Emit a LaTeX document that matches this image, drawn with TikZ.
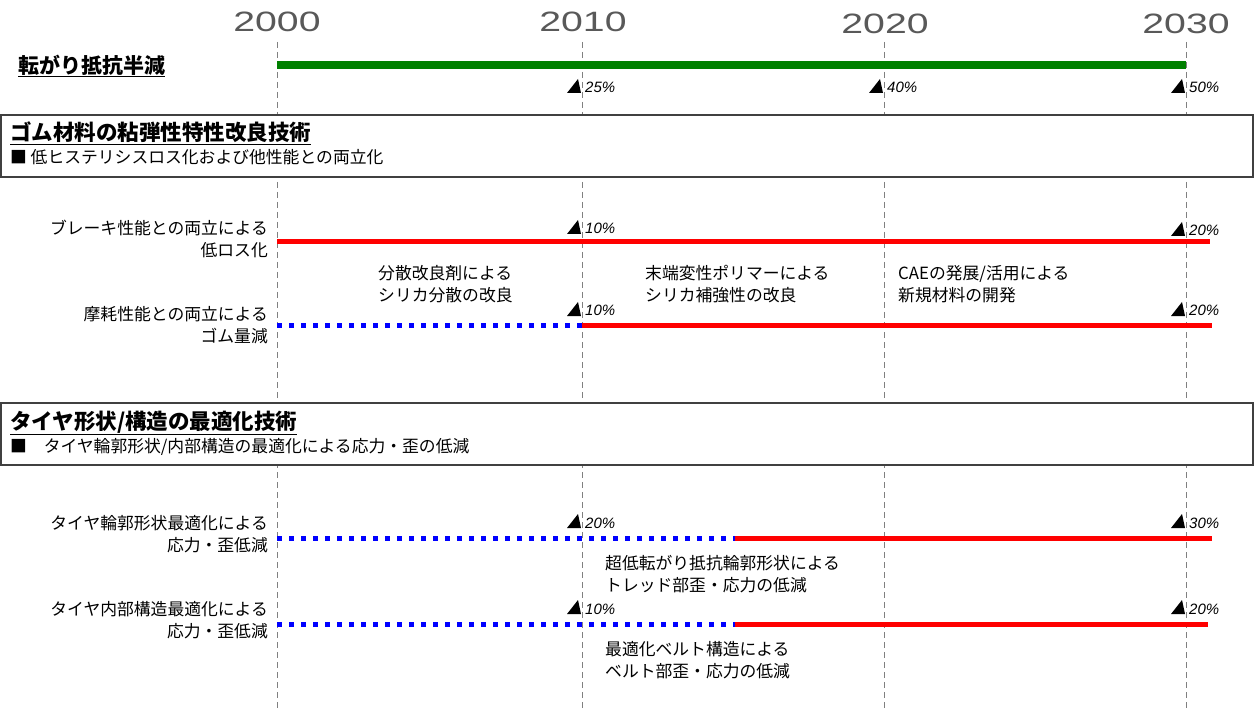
\documentclass[tikz,border=0pt]{standalone}
\usepackage{fontspec}
\setmainfont{Noto Sans CJK JP}
\newfontfamily\yearfont[FakeStretch=1.4]{Liberation Sans}
\newfontfamily\pctfamily{Liberation Sans}
\definecolor{barred}{RGB}{255,0,0}
\definecolor{bargreen}{RGB}{0,128,0}
\definecolor{barblue}{RGB}{0,0,255}
\tikzset{
  yearlbl/.style={font=\yearfont\fontsize{28}{30}\selectfont, text=black!65, inner sep=0pt},
  gridline/.style={draw=gray, dash pattern=on 6pt off 4pt, line width=1pt},
  greenbar/.style={draw=bargreen, line width=8pt},
  redbar/.style={draw=barred, line width=5pt},
  bluebar/.style={draw=barblue, line width=5pt, dash pattern=on 5pt off 7pt},
  rowlbl/.style={font=\fontsize{16.8}{22}\selectfont, align=right, anchor=east, inner sep=0pt},
  note/.style={font=\fontsize{16.8}{22}\selectfont, align=left, anchor=west, inner sep=0pt},
  pct/.style={font=\pctfamily\itshape\fontsize{15}{15}\selectfont, anchor=base west, inner sep=0pt},
  secbox/.style={draw=black!75, line width=1.3pt, fill=white, minimum width=1252pt, minimum height=62pt, inner sep=0pt},
  sectitle/.style={font=\bfseries\fontsize{21.5}{24}\selectfont, anchor=west, inner sep=0pt},
  secsub/.style={font=\fontsize{16.8}{20}\selectfont, anchor=west, inner sep=0pt},
}
\newcommand\pctmark[4]{%
  \fill (#2-15,#3) -- (#2-1,#3) -- (#2-4,#3-14) -- cycle;
  \node[pct] (#1) at (#2+3,#3) {#4};}
\begin{document}
\begin{tikzpicture}[x=1pt,y=-1pt]
\useasboundingbox (0,0) rectangle (1257,708);
% years
\node[yearlbl] (y2000) at (277,22) {2000};
\node[yearlbl] (y2010) at (583,22) {2010};
\node[yearlbl] (y2020) at (885,24) {2020};
\node[yearlbl] (y2030) at (1186,24) {2030};
% grid lines
\foreach \n/\x in {a/277,b/582,c/884,d/1186}{
  \coordinate (g\n t) at (\x,42);
  \coordinate (g\n b) at (\x,708);
  \draw[gridline] (g\n t) -- (g\n b);
}
% top goal
\node[font=\bfseries\fontsize{21}{24}\selectfont, anchor=west, inner sep=0pt] (goal) at (18,66) {\underline{転がり抵抗半減}};
\coordinate (gs) at (277,65);
\coordinate (ge) at (1186,65);
\draw[greenbar] (gs) -- (ge);
\pctmark{p1}{582}{93}{25\%}
\pctmark{p2}{884}{93}{40\%}
\pctmark{p3}{1186}{93}{50\%}
% section 1
\node[secbox] (box1) at (627,146) {};
\node[sectitle] (t1) at (10,133) {\underline{ゴム材料の粘弾性特性改良技術}};
\node[secsub] (s1) at (10,157) {■ 低ヒステリシスロス化および他性能との両立化};
% row 1
\node[rowlbl] (r1) at (268,239) {ブレーキ性能との両立による\\低ロス化};
\coordinate (r1s) at (277,242);
\coordinate (r1e) at (1210,242);
\draw[redbar] (r1s) -- (r1e);
\pctmark{p4}{582}{234}{10\%}
\pctmark{p5}{1186}{236}{20\%}
% notes
\node[note] (n1) at (378,284) {分散改良剤による\\シリカ分散の改良};
\node[note] (n2) at (645,284) {末端変性ポリマーによる\\シリカ補強性の改良};
\node[note] (n3) at (898,284) {CAEの発展/活用による\\新規材料の開発};
% row 2
\node[rowlbl] (r2) at (268,325.5) {摩耗性能との両立による\\ゴム量減};
\coordinate (r2s) at (277,325);
\coordinate (r2m) at (582,325);
\coordinate (r2e) at (1212,325);
\draw[bluebar] (r2s) -- (r2m);
\draw[redbar] (r2m) -- (r2e);
\pctmark{p6}{582}{316}{10\%}
\pctmark{p7}{1186}{316}{20\%}
% section 2
\node[secbox] (box2) at (627,434) {};
\node[sectitle] (t2) at (10,423) {\underline{タイヤ形状/構造の最適化技術}};
\node[secsub] (s2) at (10,447) {■　タイヤ輪郭形状/内部構造の最適化による応力・歪の低減};
% row 3
\node[rowlbl] (r3) at (268,534.5) {タイヤ輪郭形状最適化による\\応力・歪低減};
\coordinate (r3s) at (277,538);
\coordinate (r3m) at (735,538);
\coordinate (r3e) at (1212,538);
\draw[bluebar] (r3s) -- (r3m);
\draw[redbar] (r3m) -- (r3e);
\pctmark{p8}{582}{528}{20\%}
\pctmark{p9}{1186}{528}{30\%}
\node[note] (n4) at (605,574.5) {超低転がり抵抗輪郭形状による\\トレッド部歪・応力の低減};
% row 4
\node[rowlbl] (r4) at (268,620.5) {タイヤ内部構造最適化による\\応力・歪低減};
\coordinate (r4s) at (277,624);
\coordinate (r4m) at (735,624);
\coordinate (r4e) at (1208,624);
\draw[bluebar] (r4s) -- (r4m);
\draw[redbar] (r4m) -- (r4e);
\pctmark{p10}{582}{614}{10\%}
\pctmark{p11}{1186}{614}{20\%}
\node[note] (n5) at (605,660.5) {最適化ベルト構造による\\ベルト部歪・応力の低減};
\end{tikzpicture}
\end{document}
